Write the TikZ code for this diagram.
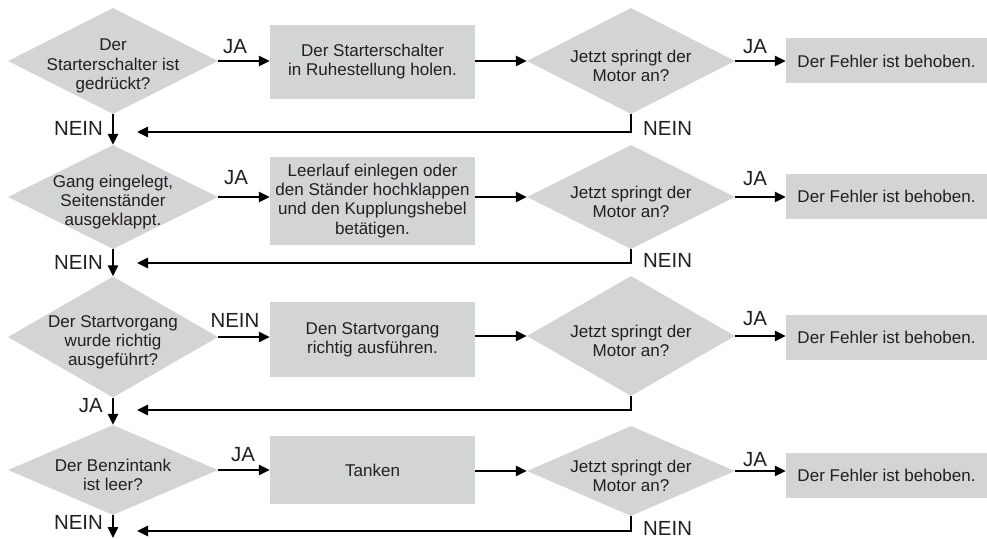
\documentclass[tikz,border=0pt]{standalone}
\usepackage{fontspec}
\setmainfont{Liberation Sans}
\usetikzlibrary{shapes.geometric,arrows.meta,calc}
\definecolor{boxgray}{RGB}{211,212,214}
\definecolor{ink}{RGB}{35,31,32}
\begin{document}
\begin{tikzpicture}[x=1bp,y=-1bp,
  txt/.style={font=\fontsize{17.1}{19.2}\selectfont, text=ink, align=center, inner sep=0pt},
  dia/.style={diamond, fill=boxgray, inner sep=0pt, minimum width=210bp},
  diar/.style={diamond, fill=boxgray, inner sep=0pt, minimum width=208bp},
  dtext/.style={txt, yshift=-5bp},
  box/.style={rectangle, fill=boxgray, txt, minimum width=205bp},
  fbox/.style={rectangle, fill=boxgray, txt, minimum width=201bp, minimum height=45bp},
  lbl/.style={font=\fontsize{20.5}{22}\selectfont, text=ink, inner sep=0pt},
  arr/.style={line width=2.6bp, draw=black, -{Triangle[length=11bp,width=10bp]}}
]
\useasboundingbox (0,0) rectangle (987,539);

% left decision diamonds
\node[dia, minimum height=106bp] (L1) at (113,61) {};
\node[dia, minimum height=104bp] (L2) at (113,197) {};
\node[dia, minimum height=121bp] (L3) at (113,337) {};
\node[dia, minimum height=90bp]  (L4) at (113,470) {};
\node[dtext] (L1t) at (L1) {Der\\Starterschalter ist\\gedrückt?};
\node[dtext] (L2t) at (L2) {Gang eingelegt,\\Seitenständer\\ausgeklappt.};
\node[dtext] (L3t) at (L3) {Der Startvorgang\\wurde richtig\\ausgeführt?};
\node[dtext] (L4t) at (L4) {Der Benzintank\\ist leer?};

% action boxes
\node[box, minimum height=74bp] (B1) at (372.5,62) {Der Starterschalter\\in Ruhestellung holen.};
\node[box, minimum height=88bp] (B2) at (372.5,201) {Leerlauf einlegen oder\\den Ständer hochklappen\\und den Kupplungshebel\\betätigen.};
\node[box, minimum height=75bp] (B3) at (372.5,339.5) {Den Startvorgang\\richtig ausführen.};
\node[box, minimum height=68bp] (B4) at (372.5,470) {Tanken};

% right decision diamonds
\node[diar, minimum height=106bp] (R1) at (631,61) {};
\node[diar, minimum height=104bp] (R2) at (631,197) {};
\node[diar, minimum height=120bp] (R3) at (631,336) {};
\node[diar, minimum height=90bp]  (R4) at (631,471) {};
\foreach \r in {1,2,3,4}{
  \node[dtext] (R\r t) at (R\r) {Jetzt springt der\\Motor an?};
}

% result boxes
\node[fbox] (F1) at (886.5,61) {Der Fehler ist behoben.};
\node[fbox] (F2) at (886.5,196.5) {Der Fehler ist behoben.};
\node[fbox] (F3) at (886.5,337.5) {Der Fehler ist behoben.};
\node[fbox] (F4) at (886.5,475.5) {Der Fehler ist behoben.};

% horizontal connectors
\foreach \r in {1,2,3,4}{
  \draw[arr] (L\r.east) -- (L\r.east -| B\r.west);
  \draw[arr] (R\r.west -| B\r.east) -- (R\r.west);
  \draw[arr] (R\r.east) -- (R\r.east -| F\r.west);
}

% return loops
\coordinate (T1) at (137,132);
\coordinate (T2) at (137,263);
\coordinate (T3) at (137,410);
\coordinate (T4) at (137,531);
\foreach \r in {1,2,3,4}{
  \draw[arr] (R\r.south) |- (T\r);
}

% vertical connectors
\coordinate (E) at (113,538);
\draw[arr] (L1.south) -- (L2.north);
\draw[arr] (L2.south) -- (L3.north);
\draw[arr] (L3.south) -- (L4.north);
\draw[arr] (L4.south) -- (E);

% labels
\node[lbl] at (235,47) {JA};
\node[lbl] at (236,178) {JA};
\node[lbl] at (235,320) {NEIN};
\node[lbl] at (243,455) {JA};
\node[lbl] at (755,47) {JA};
\node[lbl] at (755,179) {JA};
\node[lbl] at (755,319) {JA};
\node[lbl] at (755,460) {JA};
\node[lbl, anchor=east] at (103,128) {NEIN};
\node[lbl, anchor=east] at (103,262) {NEIN};
\node[lbl, anchor=east] at (103,406) {JA};
\node[lbl, anchor=east] at (103,522) {NEIN};
\node[lbl, anchor=west] at (643,128) {NEIN};
\node[lbl, anchor=west] at (643,260) {NEIN};
\node[lbl, anchor=west] at (643,528) {NEIN};
\end{tikzpicture}
\end{document}
